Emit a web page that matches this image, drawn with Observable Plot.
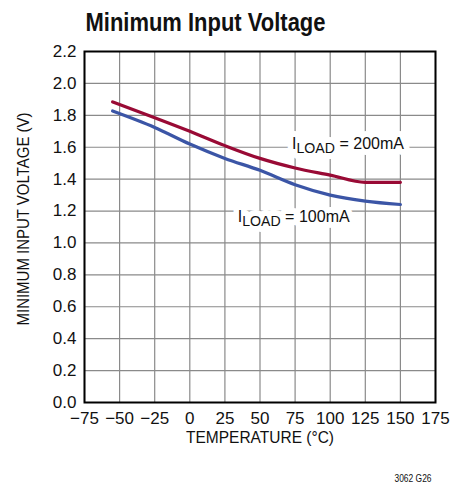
<!DOCTYPE html>
<html>
<head>
<meta charset="utf-8">
<script src="https://cdn.jsdelivr.net/npm/d3@7"></script>
<script src="https://cdn.jsdelivr.net/npm/@observablehq/plot@0.6"></script>
<style>
  html, body { margin: 0; padding: 0; background: #fff; }
  #chart svg { display: block; }
</style>
</head>
<body>
<div id="chart"></div>
<script>
const temps = [-55, -25, 0, 25, 50, 75, 100, 125, 150];
const vin200 = [1.884, 1.785, 1.70, 1.61, 1.53, 1.47, 1.425, 1.38, 1.38];
const vin100 = [1.827, 1.724, 1.62, 1.53, 1.455, 1.365, 1.30, 1.262, 1.241];
const xTicks = [-75, -50, -25, 0, 25, 50, 75, 100, 125, 150, 175];
const yTicks = [0, 0.2, 0.4, 0.6, 0.8, 1.0, 1.2, 1.4, 1.6, 1.8, 2.0, 2.2];
const seriesNames = ["200mA", "100mA"];
const seriesColors = ["#990a35", "#3b55a6"];
const labelTexts = ["I|LOAD| = 200mA", "I|LOAD| = 100mA"];
const labelX = [112.7, 74];
const labelY = [1.62, 1.165];
const titleText = "Minimum Input Voltage";
const xLabel = "TEMPERATURE (°C)";
const yLabel = "MINIMUM INPUT VOLTAGE (V)";
const footText = "3062 G26";

const FONT = "'Liberation Sans', Arial, sans-serif";

const rows = [];
temps.forEach((t, i) => {
  rows.push({ t, v: vin200[i], s: seriesNames[0] });
  rows.push({ t, v: vin100[i], s: seriesNames[1] });
});
const labels = labelTexts.map((txt, i) => ({ txt, x: labelX[i], y: labelY[i] }));
const fmtX = d => d < 0 ? "\u2212" + Math.abs(d) : String(d);

const labelOpts = { x: "x", y: "y", text: "txt", fontSize: 17, textAnchor: "middle", lineAnchor: "middle" };

const plot = Plot.plot({
  width: 452,
  height: 486,
  marginLeft: 84,
  marginRight: 17,
  marginTop: 51,
  marginBottom: 84,
  style: { fontFamily: FONT, fontSize: "17px", color: "#111", background: "#fff" },
  x: { domain: [-75, 175], ticks: xTicks },
  y: { domain: [0, 2.2], ticks: yTicks },
  color: { domain: seriesNames, range: seriesColors },
  marks: [
    Plot.gridX(xTicks, { stroke: "#8a8a8a", strokeOpacity: 1, strokeWidth: 1.2 }),
    Plot.gridY(yTicks, { stroke: "#8a8a8a", strokeOpacity: 1, strokeWidth: 1.2 }),
    Plot.text(labels, { ...labelOpts, className: "sublabel", fill: "white", stroke: "white", strokeWidth: 12, strokeLinejoin: "round" }),
    Plot.text(labels, { ...labelOpts, className: "sublabel", fill: "#111" }),
    Plot.line(rows, { x: "t", y: "v", z: "s", stroke: "s", strokeWidth: 3.2, curve: "monotone-x" }),
    Plot.frame({ stroke: "#000", strokeWidth: 2 }),
    Plot.axisX(xTicks, { tickSize: 0, tickPadding: 9, tickFormat: fmtX, label: null, fontSize: 17 }),
    Plot.axisY(yTicks, { tickSize: 0, tickPadding: 8, tickFormat: d3.format(".1f"), label: null, fontSize: 17 }),
    Plot.text([xLabel], { className: "xlab", frameAnchor: "bottom", dy: 35, textAnchor: "middle", lineAnchor: "middle", fontSize: 17, fill: "#111" }),
    Plot.text([yLabel], { className: "ylab", frameAnchor: "left", dx: -61, dy: -8, rotate: -90, textAnchor: "middle", lineAnchor: "middle", fontSize: 17, fill: "#111" }),
    Plot.text([titleText], { className: "ttl", frameAnchor: "top-left", dx: 1, dy: -29, textAnchor: "start", lineAnchor: "middle", fontSize: 26, fontWeight: "bold", fill: "#111" }),
    Plot.text([footText], { className: "foot", frameAnchor: "bottom-right", dx: -4, dy: 76, textAnchor: "end", lineAnchor: "middle", fontSize: 11, fill: "#111" })
  ]
});

const svg = d3.select(plot);
// subscripts for the I_LOAD labels
svg.selectAll(".sublabel text").each(function () {
  const parts = this.textContent.split("|");
  const el = d3.select(this);
  el.text(null);
  el.append("tspan").text(parts[0]);
  el.append("tspan").attr("dy", "4").attr("font-size", "15").text(parts[1]);
  el.append("tspan").attr("dy", "-4").text(parts[2]);
  el.attr("textLength", 112).attr("lengthAdjust", "spacingAndGlyphs");
});
// condensed look
const squeeze = (sel, len) => svg.selectAll(sel + " text").attr("textLength", len).attr("lengthAdjust", "spacingAndGlyphs");
squeeze(".ttl", 240);
squeeze(".xlab", 148);
squeeze(".ylab", 213);
squeeze(".foot", 37);

document.getElementById("chart").appendChild(plot);
</script>
</body>
</html>
